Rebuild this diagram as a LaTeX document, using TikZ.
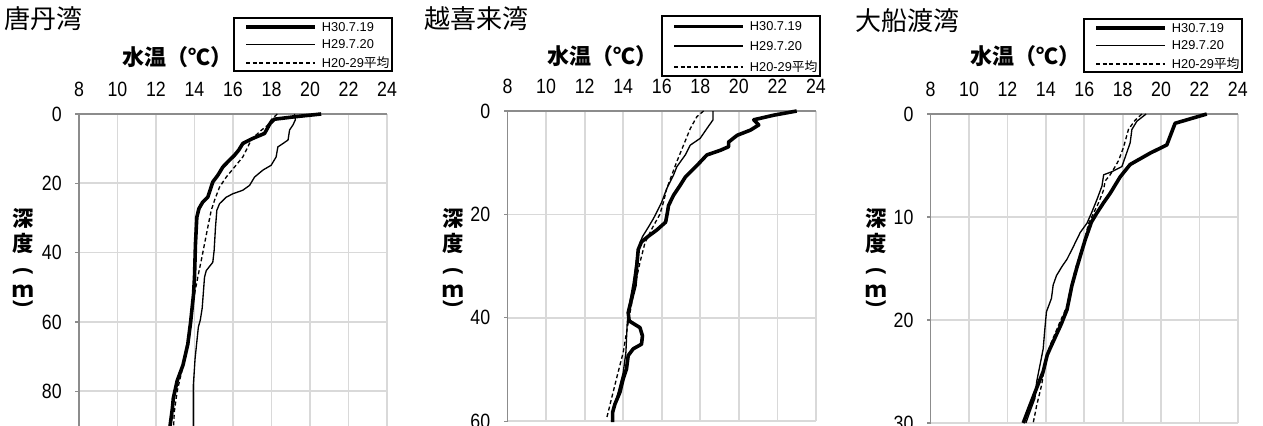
\documentclass[tikz,border=0pt]{standalone}
\usepackage{fontspec}
\setmainfont{Liberation Sans}
\newfontfamily\jpfont{Noto Sans CJK JP}
\newfontfamily\numfont[FakeStretch=0.86]{Liberation Sans}
\usepackage{tikz}
\usetikzlibrary{positioning}
\tikzset{
    gridline/.style = {draw=black!15, line width=1.3pt},
    axisline/.style = {draw=black!45, line width=1pt},
    ticklabel/.style = {font=\numfont\fontsize{15.5}{15.5}\selectfont, inner sep=0pt},
    obsnew/.style = {line width=2.7pt, line join=round},
    obsold/.style = {line width=1pt, line join=round},
    obsavg/.style = {line width=1pt, dash pattern=on 3pt off 2pt},
    legtext/.style = {font=\fontsize{9.6}{10}\selectfont, inner sep=0pt},
    baytitle/.style = {font=\jpfont\fontsize{19.5}{20}\selectfont, inner sep=0pt, anchor=west},
    axistitle/.style = {font=\jpfont\bfseries\fontsize{16.5}{16.5}\selectfont, inner sep=0pt},
    depthtext/.style = {font=\jpfont\bfseries\fontsize{16}{16}\selectfont, inner sep=0pt},
    depthparen/.style = {font=\bfseries\fontsize{16}{16}\selectfont, inner sep=0pt, rotate=-90}
}
% legend: name, left, top, height (px)
\newcommand{\legendbox}[4]{
    \draw[line width=0.8pt] (#2,#3) rectangle ++(158,#4);
    \coordinate (#1a0) at (#2+12,#3+0.175*#4);
    \coordinate (#1a1) at (#2+81,#3+0.175*#4);
    \coordinate (#1b0) at (#2+12,#3+0.5*#4);
    \coordinate (#1b1) at (#2+81,#3+0.5*#4);
    \coordinate (#1c0) at (#2+12,#3+0.85*#4);
    \coordinate (#1c1) at (#2+81,#3+0.85*#4);
    \draw[obsnew] (#1a0) -- (#1a1);
    \draw[obsold] (#1b0) -- (#1b1);
    \draw[obsavg] (#1c0) -- (#1c1);
    \node[legtext, right=5pt of #1a1] (#1ta) {H30.7.19};
    \node[legtext, right=5pt of #1b1] (#1tb) {H29.7.20};
    \node[legtext, right=5pt of #1c1] (#1tc) {H20-29{\jpfont 平均}};
}
% depth label: name, x (px)
\newcommand{\depthlabel}[2]{
    \node[depthtext] (#1a) at (#2,218) {深};
    \node[depthtext] (#1b) at (#2,243) {度};
    \node[depthparen] (#1c) at (#2,271) {(};
    \node[depthtext, anchor=base] (#1d) at (#2,297) {ｍ};
    \node[depthparen] (#1e) at (#2,304) {)};
}

\begin{document}
\begin{tikzpicture}[x=0.75pt, y=-0.75pt]
  \useasboundingbox (0,0) rectangle (1263,425);
  \clip (0,0) rectangle (1263,425);

  % 唐丹湾
  \node[baytitle] (bay1) at (4,19) {唐丹湾};
  \node[axistitle] (temp1) at (177,57) {水温（℃）};
  \depthlabel{dep1}{23}
  \legendbox{lg1}{234}{18}{53}
  \begin{scope}[xshift=-56.25pt, yshift=-85.5pt, x=14.4375pt, y=-2.59875pt]
    \foreach \tem in {10,12,...,24} \draw[gridline] (\tem,0) -- (\tem,100);
    \foreach \dep in {20,40,...,100} \draw[gridline] (8,\dep) -- (24,\dep);
    \draw[axisline] (24,0) -- (8,0) -- (8,100);
    \foreach \dep in {0,20,...,80} {
      \draw[axisline] (8,\dep) -- ++(-3pt,0);
      \node[ticklabel, anchor=east] (ya\dep) at ([xshift=-12.75pt]8,\dep) {\dep};
    }
    \foreach \tem in {8,10,...,24}
      \node[ticklabel] (xa\tem) at ([yshift=18.4pt]\tem,0) {\tem};
    \draw[obsnew] plot coordinates {(20.58,0) (19.2,0.8) (18.15,1.5) (17.93,2.7) (17.64,5.6)
      (17.03,7.05) (16.51,8.5) (16.3,10.4) (16.08,11.9) (15.82,13.3) (15.47,15.3) (15.21,17.7)
      (14.95,19.6) (14.81,22) (14.69,24) (14.43,25.4) (14.23,27.3) (14.12,29.8) (14.05,37.5)
      (14,47.1) (13.95,52) (13.8,60) (13.65,66.5) (13.4,72.5) (13.1,77) (12.9,82) (12.85,85)
      (12.73,90) (12.7,92)};
    \draw[obsold] plot coordinates {(19.19,0) (19.24,1.7) (19.11,3.2) (18.94,4.6) (18.86,7.5)
      (18.6,8.5) (18.33,9.5) (18.24,12.4) (17.98,14.8) (17.55,16.2) (17.12,18.2) (16.86,20.6)
      (16.51,22) (16,23) (15.65,24) (15.3,25.9) (15.16,27.8) (15.09,32.7) (15.02,39.4)
      (14.95,42.8) (14.61,45.2) (14.52,47.1) (14.4,56) (14.3,59.5) (14.2,61.5) (14.03,70.6)
      (13.94,78.3) (13.94,92)};
    \draw[obsavg] plot coordinates {(18.3,0) (17.98,1.7) (17.81,3.2) (17.38,5.1) (16.94,7.5)
      (16.77,9.5) (16.51,12.4) (16.08,15.3) (15.65,18.2) (15.3,21.1) (15.04,24.9) (14.87,27.8)
      (14.69,32.7) (14.52,37.5) (14.35,42.3) (14.17,47.1) (14,52) (13.83,58.7) (13.6,66.5)
      (13.35,74) (13.1,80) (12.95,86) (12.9,92)};
  \end{scope}

  % 越喜来湾
  \node[baytitle] (bay2) at (424,19) {越喜来湾};
  \node[axistitle] (temp2) at (602,56) {水温（℃）};
  \depthlabel{dep2}{453}
  \legendbox{lg2}{662}{16}{60}
  \begin{scope}[xshift=264.95pt, yshift=-83.25pt, x=14.46pt, y=-3.8775pt]
    \foreach \tem in {10,12,...,24} \draw[gridline] (\tem,0) -- (\tem,60);
    \foreach \dep in {20,40,60} \draw[gridline] (8,\dep) -- (24,\dep);
    \draw[axisline] (24,0) -- (8,0) -- (8,60);
    \foreach \dep in {0,20,...,60} {
      \draw[axisline] (8,\dep) -- ++(-3pt,0);
      \node[ticklabel, anchor=east] (yb\dep) at ([xshift=-12.75pt]8,\dep) {\dep};
    }
    \foreach \tem in {8,10,...,24}
      \node[ticklabel] (xb\tem) at ([yshift=18.4pt]\tem,0) {\tem};
    \draw[obsnew] plot coordinates {(23,0) (21.82,0.8) (20.77,1.7) (21.03,2.7) (20.6,3.7)
      (19.91,4.7) (19.47,6) (19.47,6.9) (19.04,7.6) (18.34,8.5) (17.91,10.2) (17.48,11.8)
      (17.22,12.8) (16.95,14.4) (16.61,16.3) (16.35,18.3) (16.3,19.5) (16.2,21.5) (15.75,23)
      (15.35,24.1) (14.95,25.3) (14.78,26.8) (14.69,30.6) (14.61,33.8) (14.43,36.4) (14.26,39)
      (14.31,40.6) (14.87,41.9) (15,43.5) (14.95,45.1) (14.52,46) (14.26,47.3) (14.17,49.9)
      (14,51.8) (13.83,54.4) (13.57,56.7) (13.45,58.3) (13.45,60.2)};
    \draw[obsold] plot coordinates {(18.66,0) (18.66,1.7) (18.34,3.4) (17.99,5.3) (17.48,6.6)
      (17.22,8.5) (16.78,10.8) (16.61,12.4) (16.26,15) (16,17.6) (15.83,18.9) (15.57,20.8)
      (15.3,22.5) (15,24.3) (14.87,25.5) (14.69,28.7) (14.52,33.2) (14.31,37.7) (14.21,40.9)
      (14.14,46.7) (14,50.6) (13.74,54.4) (13.48,58.3) (13.4,59.9)};
    \draw[obsavg] plot coordinates {(18.17,0) (17.82,1.1) (17.48,3.4) (17.13,6.6) (16.78,9.8)
      (16.52,12.4) (16.26,15) (16.09,17.6) (15.9,20) (15.6,22) (15.39,23.5) (15.13,25.5)
      (14.87,29.3) (14.61,33.8) (14.26,40.9) (14,46.7) (13.65,51.8) (13.39,55.7) (13.13,59.6)};
  \end{scope}

  % 大船渡湾
  \node[baytitle] (bay3) at (855,21) {大船渡湾};
  \node[axistitle] (temp3) at (1025,56) {水温（℃）};
  \depthlabel{dep3}{876}
  \legendbox{lg3}{1084}{19}{53}
  \begin{scope}[xshift=582.8pt, yshift=-85.5pt, x=14.4pt, y=-7.725pt]
    \foreach \tem in {10,12,...,24} \draw[gridline] (\tem,0) -- (\tem,30);
    \foreach \dep in {10,20,30} \draw[gridline] (8,\dep) -- (24,\dep);
    \draw[axisline] (24,0) -- (8,0) -- (8,30);
    \foreach \dep in {0,10,...,30} {
      \draw[axisline] (8,\dep) -- ++(-3pt,0);
      \node[ticklabel, anchor=east] (yc\dep) at ([xshift=-12.75pt]8,\dep) {\dep};
    }
    \foreach \tem in {8,10,...,24}
      \node[ticklabel] (xc\tem) at ([yshift=18.4pt]\tem,0) {\tem};
    \draw[obsnew] plot coordinates {(22.38,0) (20.73,0.9) (20.3,3) (19.43,3.8) (18.39,4.9)
      (17.87,6.1) (17.35,7.7) (17.01,8.6) (16.66,9.6) (16.37,10.5) (16.05,12.2) (15.79,13.8)
      (15.6,15) (15.35,16.7) (15.1,19) (14.8,20.4) (14.21,22.8) (14.07,23.4) (13.86,25)
      (13.52,26.6) (13.17,28.3) (12.82,30)};
    \draw[obsold] plot coordinates {(19.22,0) (18.74,0.7) (18.48,1.5) (18.39,2.8) (17.96,5.1)
      (17.44,5.6) (17.01,5.9) (16.92,7) (16.66,8.3) (16.4,9.5) (16.14,10.6) (15.79,11.5)
      (15.45,12.8) (15.1,14.1) (14.84,14.8) (14.55,15.7) (14.38,16.6) (14.29,17.9) (14.03,19.2)
      (13.95,20.8) (13.86,22.8) (13.69,24.4) (13.52,26) (13.43,27.6) (13.17,28.9) (12.96,30)};
    \draw[obsavg] plot coordinates {(19,0) (18.65,0.6) (18.3,1.5) (18.05,3.2) (17.79,4.5)
      (17.61,5.1) (17.35,5.9) (17.09,6.5) (17,7.4) (16.75,8.6) (16.49,9.6) (16.23,10.6)
      (16.05,11.9) (15.88,13.2) (15.62,14.5) (15.4,16) (15.25,17.9) (14.95,19.3) (14.73,20.2)
      (14.21,22.5) (13.95,24.4) (13.78,26.3) (13.52,28.3) (13.34,30)};
  \end{scope}
\end{tikzpicture}
\end{document}
